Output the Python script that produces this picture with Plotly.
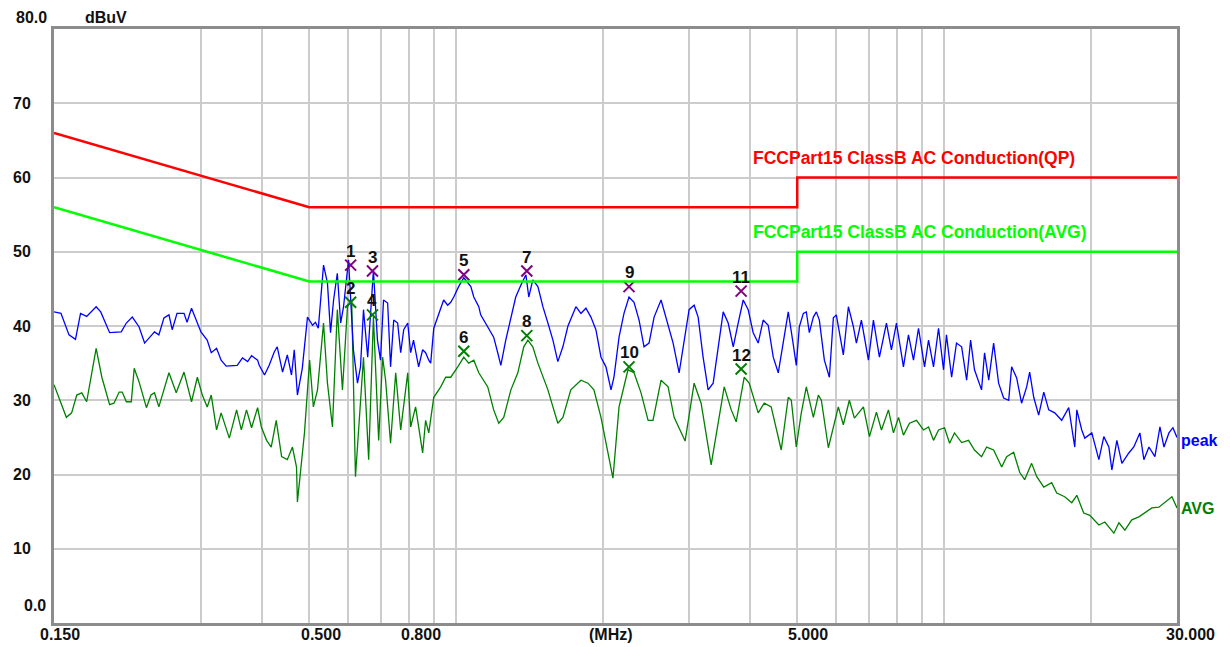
import numpy as np
import plotly.graph_objects as go

# ---------------- data ----------------
peak_freq = [
    0.150, 0.155, 0.161, 0.166, 0.170, 0.175, 0.183, 0.187, 0.195, 0.206,
    0.211, 0.217, 0.224, 0.230, 0.241, 0.246, 0.252, 0.258, 0.262, 0.268,
    0.277, 0.281, 0.287, 0.295, 0.300, 0.309, 0.315, 0.323, 0.330, 0.338,
    0.356, 0.365, 0.374, 0.381, 0.392, 0.395, 0.405, 0.414, 0.424, 0.430,
    0.441, 0.451, 0.460, 0.466, 0.473, 0.484, 0.496, 0.508, 0.515, 0.522,
    0.535, 0.545, 0.553, 0.561, 0.571, 0.580, 0.588, 0.602, 0.616, 0.628,
    0.637, 0.646, 0.659, 0.677, 0.690, 0.700, 0.710, 0.724, 0.734, 0.745,
    0.759, 0.770, 0.781, 0.796, 0.807, 0.818, 0.838, 0.854, 0.866, 0.879,
    0.887, 0.900, 0.917, 0.930, 0.943, 0.961, 0.975, 0.989, 1.012, 1.037,
    1.056, 1.072, 1.087, 1.113, 1.123, 1.161, 1.194, 1.217, 1.235, 1.264,
    1.295, 1.325, 1.357, 1.390, 1.409, 1.436, 1.471, 1.506, 1.542, 1.579,
    1.616, 1.655, 1.695, 1.760, 1.802, 1.845, 1.889, 1.934, 1.981, 2.028,
    2.077, 2.106, 2.157, 2.208, 2.261, 2.315, 2.371, 2.427, 2.485, 2.545,
    2.630, 2.693, 2.784, 2.864, 2.933, 3.002, 3.074, 3.133, 3.207, 3.284,
    3.363, 3.443, 3.526, 3.610, 3.697, 3.784, 3.875, 3.967, 4.062, 4.159,
    4.258, 4.360, 4.465, 4.572, 4.681, 4.793, 4.908, 4.978, 5.050, 5.146,
    5.219, 5.294, 5.395, 5.472, 5.550, 5.683, 5.819, 5.929, 6.013, 6.215,
    6.365, 6.517, 6.610, 6.768, 6.996, 7.163, 7.369, 7.617, 7.798, 7.985,
    8.253, 8.451, 8.653, 8.861, 9.116, 9.290, 9.511, 9.739, 9.972, 10.11,
    10.36, 10.60, 10.86, 11.12, 11.33, 11.54, 11.93, 12.10, 12.34, 12.63,
    12.93, 13.24, 13.56, 13.75, 14.08, 14.41, 14.76, 14.97, 15.26, 15.62,
    16.00, 16.38, 16.85, 17.41, 18.00, 18.52, 18.70, 19.14, 19.42, 20.07,
    20.75, 21.24, 21.75, 22.06, 22.59, 23.13, 23.90, 24.47, 25.18, 25.66,
    26.28, 27.03, 27.68, 28.21, 28.88, 29.43, 30.00,
]
peak_db = [
    41.9, 41.7, 38.8, 38.2, 41.7, 41.3, 42.6, 41.9, 39.1, 39.2,
    40.4, 41.2, 39.9, 37.7, 39.2, 38.8, 41.1, 41.5, 39.5, 41.7,
    41.7, 40.5, 42.4, 40.5, 39.2, 38.1, 36.4, 37.0, 35.4, 34.6,
    34.7, 35.7, 35.2, 36.0, 35.4, 34.7, 33.4, 34.7, 36.5, 37.2,
    33.8, 36.1, 33.4, 36.8, 30.7, 34.3, 41.2, 40.1, 40.5, 39.7,
    48.2, 45.8, 39.1, 43.5, 47.1, 40.4, 42.6, 48.9, 36.8, 32.3,
    34.5, 42.2, 35.8, 47.5, 38.1, 35.4, 43.5, 43.1, 34.5, 40.8,
    40.4, 36.4, 39.5, 40.4, 36.4, 38.1, 34.5, 36.8, 36.4, 35.4,
    35.0, 39.7, 41.2, 42.6, 43.5, 42.8, 43.2, 43.9, 45.3, 46.5,
    45.9, 45.3, 43.9, 42.6, 41.5, 39.9, 38.5, 36.4, 34.7, 38.1,
    41.2, 43.9, 45.5, 46.9, 43.9, 46.2, 45.3, 42.6, 40.4, 38.1,
    35.2, 37.2, 40.0, 42.6, 41.7, 42.4, 41.2, 39.5, 35.8, 34.5,
    31.4, 33.1, 38.5, 41.7, 43.9, 43.2, 40.8, 37.2, 37.7, 41.2,
    43.5, 41.2, 37.7, 33.7, 37.7, 42.2, 42.8, 41.2, 35.8, 31.4,
    32.3, 36.8, 41.9, 40.4, 37.2, 40.4, 43.5, 42.2, 39.1, 37.7,
    40.8, 40.1, 35.8, 33.7, 38.1, 41.9, 37.5, 34.7, 39.9, 41.7,
    41.9, 39.1, 41.2, 41.9, 40.8, 35.4, 33.1, 41.1, 41.5, 36.1,
    42.6, 39.9, 37.7, 40.8, 35.4, 40.8, 35.8, 40.4, 36.8, 40.4,
    34.5, 38.8, 35.4, 39.7, 34.5, 38.1, 34.5, 39.7, 34.1, 38.8,
    33.1, 37.7, 37.2, 32.7, 38.1, 34.1, 31.4, 36.4, 32.7, 37.7,
    32.3, 30.3, 30.0, 34.5, 33.0, 29.6, 31.8, 33.8, 30.4, 28.0,
    31.1, 28.7, 28.3, 27.3, 29.0, 23.7, 28.7, 26.0, 24.9, 25.6,
    22.0, 25.1, 23.7, 20.6, 24.6, 21.5, 22.9, 23.7, 25.6, 22.0,
    23.7, 22.4, 26.4, 23.7, 25.6, 26.3, 25.0,
]

avg_freq = [
    0.150, 0.159, 0.163, 0.167, 0.171, 0.175, 0.183, 0.188, 0.195, 0.199,
    0.204, 0.207, 0.211, 0.216, 0.219, 0.224, 0.232, 0.237, 0.241, 0.246,
    0.258, 0.267, 0.277, 0.287, 0.295, 0.302, 0.309, 0.315, 0.323, 0.330,
    0.343, 0.355, 0.363, 0.372, 0.381, 0.392, 0.399, 0.409, 0.418, 0.428,
    0.439, 0.451, 0.462, 0.471, 0.473, 0.480, 0.489, 0.501, 0.510, 0.520,
    0.527, 0.535, 0.545, 0.558, 0.571, 0.585, 0.599, 0.611, 0.622, 0.637,
    0.646, 0.662, 0.677, 0.694, 0.707, 0.717, 0.734, 0.752, 0.770, 0.796,
    0.807, 0.826, 0.854, 0.866, 0.879, 0.900, 0.930, 0.952, 0.975, 1.008,
    1.037, 1.061, 1.087, 1.113, 1.161, 1.194, 1.223, 1.252, 1.295, 1.338,
    1.376, 1.403, 1.436, 1.471, 1.506, 1.542, 1.579, 1.616, 1.655, 1.718,
    1.802, 1.863, 1.916, 1.981, 2.096, 2.157, 2.250, 2.315, 2.393, 2.474,
    2.532, 2.630, 2.719, 2.797, 2.946, 3.074, 3.177, 3.331, 3.543, 3.662,
    3.749, 3.894, 3.986, 4.159, 4.279, 4.422, 4.637, 4.793, 4.862, 4.978,
    5.097, 5.219, 5.395, 5.524, 5.603, 5.791, 6.070, 6.215, 6.394, 6.548,
    6.833, 7.030, 7.265, 7.439, 7.689, 7.873, 8.064, 8.253, 8.492, 8.777,
    9.072, 9.290, 9.511, 9.739, 10.02, 10.26, 10.50, 10.86, 11.22, 11.54,
    11.93, 12.22, 12.63, 13.12, 13.43, 13.88, 14.28, 14.62, 15.11, 15.48,
    16.00, 16.61, 17.01, 17.66, 18.26, 18.70, 19.32, 19.88, 20.75, 21.34,
    22.27, 22.81, 23.46, 24.24, 25.06, 25.78, 26.65, 27.54, 28.34, 29.29,
    30.00,
]
avg_db = [
    32.1, 27.7, 28.3, 30.7, 31.0, 29.8, 37.0, 33.1, 29.4, 29.6,
    31.1, 31.1, 29.8, 29.8, 34.3, 32.5, 29.0, 30.7, 31.0, 29.1,
    33.7, 31.0, 33.8, 29.8, 33.1, 30.7, 29.1, 30.7, 26.0, 28.3,
    24.9, 28.7, 26.0, 28.7, 26.3, 29.0, 26.4, 24.6, 23.7, 27.3,
    22.4, 22.0, 23.7, 21.0, 16.3, 20.2, 25.6, 35.4, 29.1, 31.4,
    35.4, 40.4, 32.3, 26.4, 42.2, 31.4, 42.6, 43.5, 19.7, 29.1,
    35.8, 22.0, 41.2, 24.6, 35.8, 32.7, 24.2, 33.7, 26.0, 33.7,
    26.4, 29.1, 22.9, 27.3, 25.6, 30.4, 31.8, 33.1, 33.1, 34.5,
    35.8, 35.0, 35.4, 33.7, 31.8, 28.7, 26.9, 27.7, 31.4, 33.7,
    37.2, 38.1, 37.2, 35.0, 33.1, 31.4, 29.1, 26.9, 27.7, 31.4,
    32.7, 32.3, 31.4, 27.7, 19.5, 29.1, 34.1, 33.7, 31.0, 27.3,
    27.3, 32.7, 31.8, 27.7, 24.5, 32.3, 29.6, 21.3, 31.8, 28.7,
    27.1, 33.1, 32.3, 28.3, 29.6, 29.1, 23.3, 30.4, 30.0, 23.7,
    28.3, 31.8, 27.7, 30.7, 30.0, 23.6, 29.1, 26.7, 30.0, 27.6,
    29.1, 25.1, 28.4, 26.0, 28.7, 25.6, 27.7, 25.3, 26.9, 27.3,
    26.0, 26.4, 24.6, 26.0, 26.3, 24.2, 25.6, 24.3, 24.6, 23.3,
    22.4, 23.7, 23.3, 21.0, 22.4, 23.0, 20.3, 19.3, 21.5, 19.7,
    18.3, 18.9, 17.5, 17.0, 16.2, 17.2, 14.8, 14.5, 13.2, 13.6,
    12.1, 13.5, 12.5, 13.9, 14.3, 14.8, 15.5, 15.6, 16.3, 17.0,
    15.5,
]

# limit lines (FCC Part 15 Class B conducted)
limit_freq = [0.15, 0.5, 5.0, 5.0, 30.0]
qp_limit_db = [66.0, 56.0, 56.0, 60.0, 60.0]
avg_limit_db = [56.0, 46.0, 46.0, 50.0, 50.0]

# marked points
mk_peak_labels = ["1", "3", "5", "7", "9", "11"]
mk_avg_labels = ["2", "4", "6", "8", "10", "12"]
mk_freq = [0.608, 0.674, 1.037, 1.396, 2.261, 3.837]
mk_peak_db = [48.2, 47.4, 46.9, 47.4, 45.3, 44.7]
mk_avg_db = [43.2, 41.5, 36.6, 38.7, 34.5, 34.2]

# axis labels
y_label_vals = [70, 60, 50, 40, 30, 20, 10]
x_grid_vals = [0.3, 0.4, 0.5, 0.6, 0.7, 0.8, 0.9, 1, 2, 3, 4, 5, 6, 7, 8, 9, 10, 20]

assert len(peak_freq) == len(peak_db), (len(peak_freq), len(peak_db))
assert len(avg_freq) == len(avg_db), (len(avg_freq), len(avg_db))

# ---------------- figure ----------------
# the page body has an 8px margin, so the figure is 8px smaller each way
OFF = 8
W, H = 1230 - OFF, 647 - OFF
L, T = 54 - OFF, 29 - OFF
PW, PH = 1123, 594
R, B = W - L - PW, H - T - PH
FONT = "Liberation Sans"


def px(x):  # page pixel x -> paper fraction
    return (x - 54) / PW


def py(y):  # page pixel y -> paper fraction
    return (623 - y) / PH


fig = go.Figure()

fig.add_trace(go.Scatter(x=avg_freq, y=avg_db, mode="lines",
                         line=dict(color="#008000", width=1.3), hoverinfo="skip"))
fig.add_trace(go.Scatter(x=peak_freq, y=peak_db, mode="lines",
                         line=dict(color="#0000ff", width=1.3), hoverinfo="skip"))
fig.add_trace(go.Scatter(x=mk_freq, y=mk_peak_db, mode="markers",
                         marker=dict(symbol="x-thin-open", size=11, color="#800080",
                                     line=dict(color="#800080", width=2)), hoverinfo="skip"))
fig.add_trace(go.Scatter(x=mk_freq, y=mk_avg_db, mode="markers",
                         marker=dict(symbol="x-thin-open", size=11, color="#008000",
                                     line=dict(color="#008000", width=2)), hoverinfo="skip"))
fig.add_trace(go.Scatter(x=limit_freq, y=qp_limit_db, mode="lines",
                         line=dict(color="#ff0000", width=2.5), hoverinfo="skip"))
fig.add_trace(go.Scatter(x=limit_freq, y=avg_limit_db, mode="lines",
                         line=dict(color="#00ff00", width=2.5), hoverinfo="skip"))

ann = []
lab_font = dict(family=FONT, size=16, color="#111111")
num_font = dict(family=FONT, size=17, color="#111111")

# marker numbers
for f, d, t in zip(mk_freq, mk_peak_db, mk_peak_labels):
    ann.append(dict(x=np.log10(f), y=d, xref="x", yref="y", text="<b>%s</b>" % t,
                    showarrow=False, yshift=14, font=num_font))
for f, d, t in zip(mk_freq, mk_avg_db, mk_avg_labels):
    ann.append(dict(x=np.log10(f), y=d, xref="x", yref="y", text="<b>%s</b>" % t,
                    showarrow=False, yshift=14, font=num_font))

# y labels
for v in y_label_vals:
    ann.append(dict(x=px(11), y=v, xref="paper", yref="y", text="<b>%d</b>" % v,
                    xanchor="left", yanchor="middle", showarrow=False, font=lab_font))
ann.append(dict(x=px(48), y=py(8.5), xref="paper", yref="paper", text="<b>80.0</b>",
                xanchor="right", yanchor="top", showarrow=False, font=lab_font, borderpad=0))
ann.append(dict(x=px(48), y=py(605), xref="paper", yref="paper", text="<b>0.0</b>",
                xanchor="right", yanchor="middle", showarrow=False, font=lab_font))
ann.append(dict(x=px(84), y=py(8.5), xref="paper", yref="paper", text="<b>dBuV</b>",
                xanchor="left", yanchor="top", showarrow=False, font=lab_font, borderpad=0))

# x labels
for text, cx in [("0.150", 60), ("0.500", 321), ("0.800", 421), ("(MHz)", 611),
                 ("5.000", 808), ("30.000", 1190)]:
    ann.append(dict(x=px(cx), y=py(634), xref="paper", yref="paper", text="<b>%s</b>" % text,
                    xanchor="center", yanchor="middle", showarrow=False, font=lab_font))

# limit labels
ann.append(dict(x=px(751), y=py(158), xref="paper", yref="paper",
                text="<b>FCCPart15 ClassB AC Conduction(QP)</b>", xanchor="left", yanchor="middle",
                showarrow=False, font=dict(family=FONT, size=17.5, color="#ff0000")))
ann.append(dict(x=px(751), y=py(232), xref="paper", yref="paper",
                text="<b>FCCPart15 ClassB AC Conduction(AVG)</b>", xanchor="left", yanchor="middle",
                showarrow=False, font=dict(family=FONT, size=17.5, color="#00ff00")))

# trace labels
ann.append(dict(x=px(1179), y=py(441), xref="paper", yref="paper", text="<b>peak</b>",
                xanchor="left", yanchor="middle", showarrow=False,
                font=dict(family=FONT, size=16, color="#0000ff")))
ann.append(dict(x=px(1179), y=py(508), xref="paper", yref="paper", text="<b>AVG</b>",
                xanchor="left", yanchor="middle", showarrow=False,
                font=dict(family=FONT, size=16, color="#008000")))

fig.update_layout(
    width=W, height=H,
    margin=dict(l=L, r=R, t=T, b=B, pad=0),
    paper_bgcolor="white", plot_bgcolor="white",
    showlegend=False,
    annotations=ann,
    xaxis=dict(type="log", range=[np.log10(0.15), np.log10(30)],
               tickvals=x_grid_vals, showticklabels=False, ticks="",
               showgrid=True, gridcolor="#cccccc", gridwidth=1.5,
               showline=True, mirror=True, linecolor="#8c8c8c", linewidth=3,
               zeroline=False, fixedrange=True),
    yaxis=dict(range=[0, 80], tickvals=y_label_vals, showticklabels=False, ticks="",
               showgrid=True, gridcolor="#cccccc", gridwidth=1.5,
               showline=True, mirror=True, linecolor="#8c8c8c", linewidth=3,
               zeroline=False, fixedrange=True),
)

fig.write_html("out.html")
